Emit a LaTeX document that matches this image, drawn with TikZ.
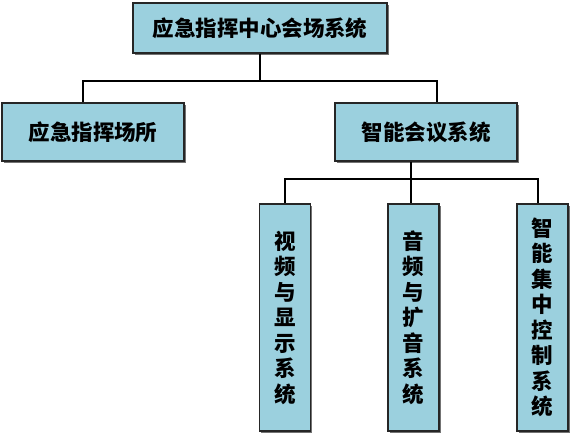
\documentclass[tikz,border=0pt]{standalone}
\usepackage{fontspec}
\newfontfamily\cjk{Noto Sans CJK SC}
\usetikzlibrary{positioning,shadows}
\definecolor{boxblue}{RGB}{155,208,222}

\begin{document}
\begin{tikzpicture}[x=1pt, y=-1pt,
    sysbox/.style={draw=black!85, line width=1.1pt, fill=boxblue,
        drop shadow={shadow xshift=1.6pt, shadow yshift=-1.6pt, fill=black!55, opacity=1},
        font=\cjk\bfseries\fontsize{21.5}{25.5}\selectfont, inner sep=0pt},
    subbox/.style={sysbox, minimum width=51pt, minimum height=227pt, align=center},
    link/.style={line width=1.6pt, black}]
    \useasboundingbox (0,0) rectangle (571,435);

    % Level 0
    \node[sysbox, minimum width=254pt, minimum height=50pt] (top) at (260,28) {应急指挥中心会场系统};

    % Level 1
    \node[sysbox, minimum width=182pt, minimum height=58pt] (place) at (93,132) {应急指挥场所};
    \node[sysbox, minimum width=182pt, minimum height=58pt] (meet) at (426,132) {智能会议系统};

    % Level 2
    \node[subbox] (video) at (285,317.5) {视\\频\\与\\显\\示\\系\\统};
    \node[subbox] (audio) at (413.5,317.5) {音\\频\\与\\扩\\音\\系\\统};
    \node[subbox] (ctrl) at (542.5,317.5) {智\\能\\集\\中\\控\\制\\系\\统};

    % connectors
    \coordinate (l1) at (83,81);
    \coordinate (r1) at (437,81);
    \coordinate (m2) at (411,179);
    \coordinate (r2) at (538,179);
    \draw[link] (top.south) -- (top.south |- l1);
    \draw[link] (place.north -| l1) -- (l1) -- (r1) -- (meet.north -| r1);
    \draw[link] (meet.south -| m2) -- (audio.north -| m2);
    \draw[link] (video.north) |- (r2) -- (ctrl.north -| r2);
\end{tikzpicture}
\end{document}
